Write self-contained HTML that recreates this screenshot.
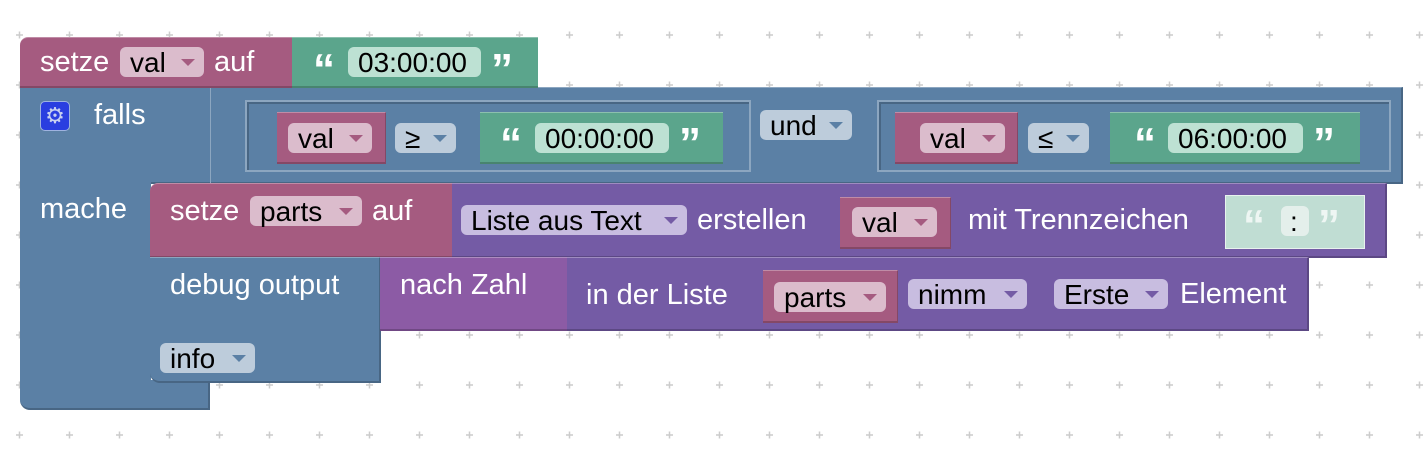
<!DOCTYPE html>
<html><head><meta charset="utf-8"><style>
body{margin:0;width:1426px;height:452px;overflow:hidden;background:#fff;position:relative;font-family:"Liberation Sans",sans-serif;}
.b{position:absolute;box-sizing:border-box;}
.t{position:absolute;font-size:29px;color:#fff;white-space:nowrap;line-height:30px;}
.f{position:absolute;box-sizing:border-box;height:30px;border-radius:6px;font-size:28px;color:#000;line-height:31px;padding-left:10px;white-space:nowrap;}
.f i{position:absolute;right:9px;top:12px;width:0;height:0;border-left:7px solid transparent;border-right:7px solid transparent;border-top:7px solid;}
.red{background:#a55b80;border-bottom:2px solid #844866;border-right:1px solid #844866;border-top:1px solid #c08ca6;}
.blue{background:#5b80a5;border-bottom:2px solid #486684;border-right:2px solid #486684;border-top:1px solid #8ca6c0;}
.green{background:#5ba58c;border-bottom:2px solid #48846f;border-top:1px solid #8cc0ae;}
.purp{background:#745ba5;border-bottom:2px solid #5c4884;border-top:1px solid #9f8cc0;}
.mag{background:#8c5ba5;border-bottom:2px solid #704884;border-top:1px solid #ae8cc0;}
.pf{background:#dbbccc;} .pf i{border-top-color:#a55b80;}
.bf{background:#bdccdb;} .bf i{border-top-color:#5b80a5;}
.gf{background:#bde1d3;}
.vf{background:#c8bde0;} .vf i{border-top-color:#745ba5;}
.q{position:absolute;color:#fff;font-size:44px;font-weight:bold;line-height:40px;font-family:"Liberation Sans",sans-serif;}
</style></head><body>
<svg width="1426" height="452" style="position:absolute;left:0;top:0">
<defs><pattern id="g" x="0" y="10" width="50" height="50" patternUnits="userSpaceOnUse">
<path d="M16 25h7M19.5 21.5v7" stroke="#ccc" stroke-width="1.5"/></pattern></defs>
<rect width="1426" height="452" fill="url(#g)"/>
</svg>

<!-- falls/mache container -->
<div class="b blue" style="left:20px;top:87px;width:1383px;height:97px;"></div>
<div class="b" style="left:20px;top:181px;width:131px;height:212px;background:#5b80a5;"></div>
<div class="b blue" style="left:20px;top:380px;width:190px;height:30px;border-top:none;border-radius:0 0 0 10px;"></div>
<div class="b" style="left:210px;top:88px;width:1px;height:95px;background:#8ca6c0"></div>
<div class="b" style="left:40px;top:101px;width:30px;height:30px;background:#2a3ee0;border:1px solid #9fb3e0;border-radius:5px;color:#c8d0f0;font-size:22px;text-align:center;line-height:27px;">⚙</div>
<div class="t" style="left:94px;top:100px">falls</div>
<div class="t" style="left:40px;top:194px">mache</div>

<!-- setze val -->
<div class="b red" style="left:20px;top:37px;width:273px;height:51px;border-radius:8px 0 0 0;"></div>
<div class="t" style="left:40px;top:47px">setze</div>
<div class="f pf" style="left:120px;top:47px;width:84px">val<i></i></div>
<div class="t" style="left:214px;top:47px">auf</div>
<div class="b green" style="left:292px;top:37px;width:246px;height:51px;"></div>
<div class="q" style="left:313px;top:50px">“</div>
<div class="f gf" style="left:348px;top:47px;width:133px">03:00:00</div>
<div class="q" style="left:491px;top:50px">”</div>

<!-- und block -->
<div class="b" style="left:245px;top:100px;width:506px;height:72px;border:2px solid #8ca6c0;background:#5b80a5;box-shadow:inset 2px 2px 0 #486684"></div>
<div class="b red" style="left:277px;top:112px;width:109px;height:52px;"></div>
<div class="f pf" style="left:288px;top:123px;width:84px">val<i></i></div>
<div class="f bf" style="left:395px;top:123px;width:61px">≥<i></i></div>
<div class="b green" style="left:480px;top:112px;width:243px;height:52px;"></div>
<div class="q" style="left:500px;top:124px">“</div>
<div class="f gf" style="left:535px;top:123px;width:134px">00:00:00</div>
<div class="q" style="left:679px;top:124px">”</div>
<div class="f bf" style="left:760px;top:110px;width:92px">und<i></i></div>
<div class="b" style="left:877px;top:100px;width:514px;height:72px;border:2px solid #8ca6c0;background:#5b80a5;box-shadow:inset 2px 2px 0 #486684"></div>
<div class="b red" style="left:895px;top:112px;width:123px;height:52px;"></div>
<div class="f pf" style="left:920px;top:123px;width:85px">val<i></i></div>
<div class="f bf" style="left:1028px;top:123px;width:61px">≤<i></i></div>
<div class="b green" style="left:1110px;top:112px;width:250px;height:52px;"></div>
<div class="q" style="left:1134px;top:124px">“</div>
<div class="f gf" style="left:1168px;top:123px;width:135px">06:00:00</div>
<div class="q" style="left:1313px;top:124px">”</div>

<!-- setze parts -->
<div class="b red" style="left:150px;top:183px;width:303px;height:75px;border-radius:8px 0 0 0;"></div>
<div class="t" style="left:170px;top:196px">setze</div>
<div class="f pf" style="left:250px;top:196px;width:112px">parts<i></i></div>
<div class="t" style="left:372px;top:196px">auf</div>
<div class="b purp" style="left:452px;top:183px;width:935px;height:75px;border-right:2px solid #5c4884"></div>
<div class="f vf" style="left:461px;top:205px;width:226px">Liste aus Text<i></i></div>
<div class="t" style="left:697px;top:205px">erstellen</div>
<div class="b red" style="left:840px;top:197px;width:111px;height:52px;"></div>
<div class="f pf" style="left:852px;top:207px;width:85px">val<i></i></div>
<div class="t" style="left:968px;top:205px">mit Trennzeichen</div>
<div class="b" style="left:1225px;top:195px;width:140px;height:54px;background:#c0ddd3;border:1px solid #e8f2ee;"></div>
<div class="q" style="left:1243px;top:206px;color:#eef6f3">“</div>
<div class="f" style="left:1281px;top:206px;width:28px;background:#e4efeb;padding-left:9px">:</div>
<div class="q" style="left:1318px;top:206px;color:#eef6f3">”</div>

<!-- debug output -->
<div class="b blue" style="left:150px;top:257px;width:231px;height:126px;border-radius:0 0 0 10px;"></div>
<div class="t" style="left:170px;top:270px">debug output</div>
<div class="f bf" style="left:160px;top:343px;width:95px">info<i></i></div>
<div class="b mag" style="left:380px;top:257px;width:188px;height:74px;"></div>
<div class="t" style="left:400px;top:270px">nach Zahl</div>
<div class="b purp" style="left:567px;top:257px;width:742px;height:74px;border-right:2px solid #5c4884"></div>
<div class="t" style="left:586px;top:280px">in der Liste</div>
<div class="b red" style="left:763px;top:270px;width:135px;height:53px;"></div>
<div class="f pf" style="left:774px;top:282px;width:112px">parts<i></i></div>
<div class="f vf" style="left:908px;top:279px;width:119px">nimm<i></i></div>
<div class="f vf" style="left:1054px;top:279px;width:114px">Erste<i></i></div>
<div class="t" style="left:1180px;top:279px">Element</div>
</body></html>
